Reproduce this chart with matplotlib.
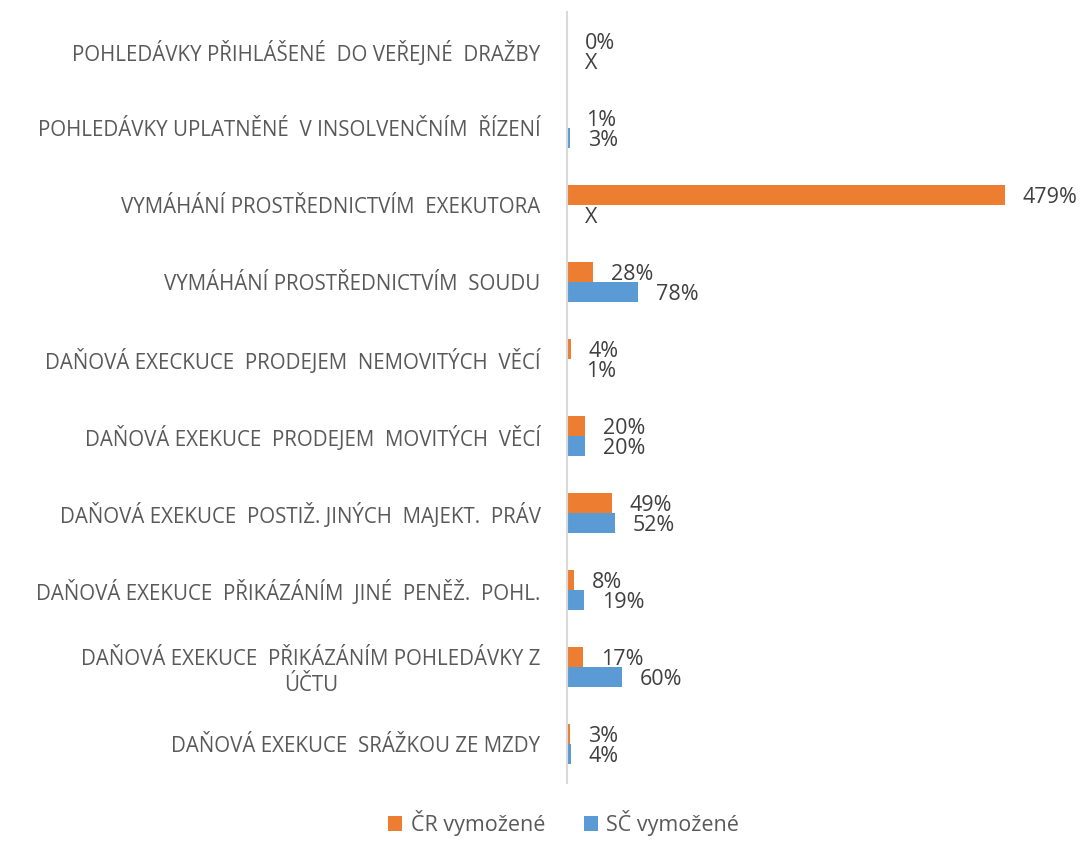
import matplotlib.pyplot as plt
import numpy as np

# categories listed top to bottom, as in the picture
categories = [
    "POHLEDÁVKY PŘIHLÁŠENÉ  DO VEŘEJNÉ  DRAŽBY",
    "POHLEDÁVKY UPLATNĚNÉ  V INSOLVENČNÍM  ŘÍZENÍ",
    "VYMÁHÁNÍ PROSTŘEDNICTVÍM  EXEKUTORA",
    "VYMÁHÁNÍ PROSTŘEDNICTVÍM  SOUDU",
    "DAŇOVÁ EXECKUCE  PRODEJEM  NEMOVITÝCH  VĚCÍ",
    "DAŇOVÁ EXEKUCE  PRODEJEM  MOVITÝCH  VĚCÍ",
    "DAŇOVÁ EXEKUCE  POSTIŽ. JINÝCH  MAJEKT.  PRÁV",
    "DAŇOVÁ EXEKUCE  PŘIKÁZÁNÍM  JINÉ  PENĚŽ.  POHL.",
    "DAŇOVÁ EXEKUCE  PŘIKÁZÁNÍM POHLEDÁVKY Z\nÚČTU",
    "DAŇOVÁ EXEKUCE  SRÁŽKOU ZE MZDY",
]
cr_values = [0, 1, 479, 28, 4, 20, 49, 8, 17, 3]
sc_values = [None, 3, None, 78, 1, 20, 52, 19, 60, 4]
series_names = ["ČR vymožené", "SČ vymožené"]

ORANGE = "#ED7D31"
BLUE = "#5B9BD5"
TEXT = "#595959"
LABEL = "#404040"

plt.rcParams['font.family'] = ['Open Sans', 'DejaVu Sans']


def draw_labels(ax, ypos, values):
    for y, v in zip(ypos, values):
        txt = "X" if v is None else f"{v}%"
        x = 0 if v is None else v
        ax.annotate(txt, (x, y), xytext=(13, -2), textcoords='offset points',
                    ha='left', va='center', fontsize=15.5, color=LABEL,
                    annotation_clip=False)


def main():
    fig = plt.figure(figsize=(10.84, 8.47), dpi=100)
    ax = fig.add_axes([567 / 1084, 64.5 / 847, 493 / 1084, 770 / 847])
    y = np.arange(len(categories))
    h = 0.26
    cr = [0 if v is None else v for v in cr_values]
    sc = [0 if v is None else v for v in sc_values]
    ax.barh(y - h / 2, cr, height=h, color=ORANGE, label=series_names[0])
    ax.barh(y + h / 2, sc, height=h, color=BLUE, label=series_names[1])
    draw_labels(ax, y - h / 2, cr_values)
    draw_labels(ax, y + h / 2, sc_values)

    ax.set_xlim(0, 493 / 0.914)
    ax.set_ylim(len(categories) - 0.5, -0.5)
    ax.set_yticks(y)
    ax.set_yticklabels(categories, fontsize=14.8, color=TEXT,
                       multialignment='center', linespacing=1.35)
    ax.tick_params(axis='y', length=0, pad=19)
    ax.set_xticks([])
    for s in ['top', 'right', 'bottom']:
        ax.spines[s].set_visible(False)
    ax.spines['left'].set_color('#D9D9D9')
    ax.spines['left'].set_linewidth(1.5)

    fig.legend(loc='lower center', bbox_to_anchor=(0.52, -0.01), ncol=2,
               frameon=False, fontsize=15.5, handlelength=0.65, handleheight=0.65,
               handletextpad=0.4, columnspacing=1.8, labelcolor=TEXT)
    fig.savefig("out.png", dpi=100)


if __name__ == "__main__":
    main()
